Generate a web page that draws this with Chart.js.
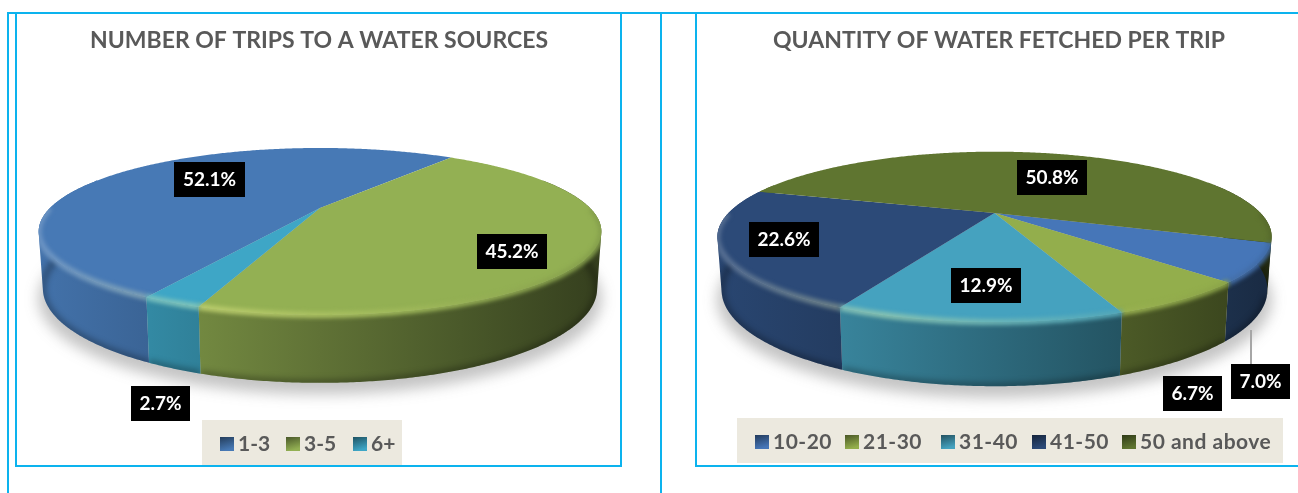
<!DOCTYPE html>
<html>
<head>
<meta charset="utf-8">
<script src="https://cdn.jsdelivr.net/npm/chart.js@4"></script>
<style>
  html, body { margin: 0; padding: 0; background: #fff; overflow: hidden; }
  #page { position: relative; width: 1298px; height: 493px; }
  canvas { position: absolute; top: 0; }
  .rule { position: absolute; background: #0cb3ee; }
</style>
</head>
<body>
<div id="page">
  <div class="rule" style="left:7px;top:12px;width:2px;height:481px"></div>
  <div class="rule" style="left:7px;top:12px;width:1291px;height:2px"></div>
  <div class="rule" style="left:15px;top:13px;width:2px;height:454px"></div>
  <div class="rule" style="left:620px;top:13px;width:2px;height:454px"></div>
  <div class="rule" style="left:15px;top:465px;width:607px;height:2px"></div>
  <div class="rule" style="left:660px;top:13px;width:2px;height:480px"></div>
  <div class="rule" style="left:695px;top:13px;width:2px;height:454px"></div>
  <div class="rule" style="left:695px;top:465px;width:603px;height:2px"></div>
  <canvas id="tripsChart" width="638" height="493" style="left:0"></canvas>
  <canvas id="quantityChart" width="598" height="493" style="left:700px"></canvas>
</div>
<script>
const tripLabels = ['1-3', '3-5', '6+'];
const tripValues = [52.1, 45.2, 2.7];
const tripColors = ['#4779b5', '#93b053', '#3ea6c6'];

const quantityLabels = ['10-20', '21-30', '31-40', '41-50', '50 and above'];
const quantityValues = [7.0, 6.7, 12.9, 22.6, 50.8];
const quantityColors = ['#4676b8', '#93ae4c', '#45a2bf', '#2c4a78', '#5f7530'];

const FONT = "Lato, 'Open Sans', sans-serif";
const TEXT_GREY = '#595959';
const DEG = Math.PI / 180;

function mix(hex, target, t) {
  const a = parseInt(hex.slice(1), 16), b = parseInt(target.slice(1), 16);
  const ch = s => Math.round(((a >> s) & 255) * (1 - t) + ((b >> s) & 255) * t);
  return 'rgb(' + ch(16) + ',' + ch(8) + ',' + ch(0) + ')';
}

// splits an arc into the stretches whose sine stays above a limit (the parts facing the viewer)
function frontRuns(arc, limit) {
  const runs = [];
  let run = null;
  const steps = Math.ceil((arc.endAngle - arc.startAngle) / (0.5 * DEG));
  for (let s = 0; s <= steps; s++) {
    const a = arc.startAngle + (arc.endAngle - arc.startAngle) * s / steps;
    if (Math.sin(a) > limit) {
      if (!run) { run = []; runs.push(run); }
      run.push(a);
    } else {
      run = null;
    }
  }
  return runs;
}

// Office style 3D pie: the arcs Chart.js worked out are projected with a perspective tilt
const pie3dPlugin = {
  id: 'pie3d',
  beforeDatasetDraw(chart, args, opts) {
    const ctx = chart.ctx, arcs = chart.getDatasetMeta(0).data;
    const colors = chart.data.datasets[0].backgroundColor;
    const k = opts.tilt;
    const top = (r, a) => {
      const u = r * Math.cos(a), v = r * Math.sin(a), w = 1 - k * v;
      return { x: opts.cx + opts.b * u / w, y: opts.cy + opts.a * v / w };
    };
    const low = (r, a) => {
      const p = top(r, a);
      return { x: opts.cx + (p.x - opts.cx) * 0.985, y: opts.cy + opts.depth + (p.y - opts.cy) * 1.13 };
    };
    const sweep = (fn, r, angles, start) => {
      angles.forEach((a, i) => {
        const p = fn(r, a);
        if (i === 0 && start) ctx.moveTo(p.x, p.y); else ctx.lineTo(p.x, p.y);
      });
    };
    // wall as little quads of one winding, so the fold at the silhouette leaves no hole
    const addWall = run => {
      for (let i = 0; i < run.length - 1; i++) {
        let q = [top(1, run[i]), top(1, run[i + 1]), low(1, run[i + 1]), low(1, run[i])];
        let area = 0;
        q.forEach((p, j) => {
          const n = q[(j + 1) % 4];
          area += p.x * n.y - n.x * p.y;
        });
        if (area < 0) q = q.reverse();
        ctx.moveTo(q[0].x, q[0].y);
        for (let j = 1; j < 4; j++) ctx.lineTo(q[j].x, q[j].y);
        ctx.closePath();
      }
    };
    const full = [];
    for (let i = 0; i < 360; i++) full.push(i * DEG);
    const x0 = opts.cx - opts.rx, x1 = opts.cx + opts.rx;

    ctx.save();
    ctx.translate(-opts.left, 0);

    // soft floor shadow
    ctx.save();
    ctx.filter = 'blur(7px)';
    ctx.translate(0, 9);
    ctx.beginPath();
    sweep(low, 1.015, full, true);
    ctx.closePath();
    ctx.fillStyle = 'rgba(70,70,70,0.32)';
    ctx.fill();
    ctx.restore();

    // side wall
    arcs.forEach((arc, i) => {
      const g = ctx.createLinearGradient(x0, 0, x1, 0);
      [0, 0.25, 0.5, 0.75, 1].forEach(t => g.addColorStop(t, mix(colors[i], '#000000', 0.06 + 0.58 * t)));
      frontRuns(arc, -0.4).forEach(run => {
        ctx.beginPath();
        addWall(run);
        ctx.fillStyle = g;
        ctx.strokeStyle = g;
        ctx.lineWidth = 0.5;
        ctx.fill();

        // darker foot of the wall
        ctx.save();
        ctx.clip();
        ctx.filter = 'blur(3px)';
        ctx.beginPath();
        sweep(low, 1, run, true);
        ctx.strokeStyle = 'rgba(0,0,0,0.32)';
        ctx.lineWidth = 6;
        ctx.stroke();
        ctx.restore();
      });
    });

    // top face
    arcs.forEach((arc, i) => {
      ctx.beginPath();
      ctx.moveTo(opts.cx, opts.cy);
      const steps = Math.ceil((arc.endAngle - arc.startAngle) / (0.5 * DEG));
      for (let s = 0; s <= steps; s++) {
        const p = top(1, arc.startAngle + (arc.endAngle - arc.startAngle) * s / steps);
        ctx.lineTo(p.x, p.y);
      }
      ctx.closePath();
      ctx.fillStyle = colors[i];
      ctx.fill();
    });

    // bevel highlight round the front of the rim, kept inside the solid
    ctx.save();
    ctx.beginPath();
    sweep(top, 1, full, true);
    ctx.closePath();
    arcs.forEach(arc => frontRuns(arc, -0.4).forEach(addWall));
    ctx.clip();
    ctx.filter = 'blur(2px)';
    ctx.lineWidth = 6;
    arcs.forEach((arc, i) => {
      const g = ctx.createLinearGradient(x0, 0, x1, 0);
      g.addColorStop(0, mix(colors[i], '#ffffff', 0.2));
      g.addColorStop(0.3, mix(colors[i], '#ffff99', 0.36));
      g.addColorStop(0.65, mix(colors[i], '#ffff99', 0.12));
      g.addColorStop(1, mix(colors[i], '#000000', 0.1));
      frontRuns(arc, 0).forEach(run => {
        ctx.beginPath();
        sweep(top, 1, run, true);
        ctx.strokeStyle = g;
        ctx.stroke();
      });
    });
    ctx.restore();

    ctx.restore();
    return false;
  },
  afterDraw(chart, args, opts) {
    const ctx = chart.ctx;
    const values = chart.data.datasets[0].data;
    const colors = chart.data.datasets[0].backgroundColor;
    ctx.save();
    ctx.translate(-opts.left, 0);

    if (opts.leader) {
      ctx.strokeStyle = '#a6a6a6';
      ctx.lineWidth = 2;
      ctx.beginPath();
      ctx.moveTo(opts.leader[0], opts.leader[1]);
      ctx.lineTo(opts.leader[2], opts.leader[3]);
      ctx.stroke();
    }

    // black value labels
    ctx.textAlign = 'center';
    ctx.textBaseline = 'middle';
    ctx.font = 'bold ' + opts.labelSize + 'px ' + FONT;
    values.forEach((v, i) => {
      const b = opts.boxes[i];
      ctx.fillStyle = '#000';
      ctx.fillRect(b[0], b[1], b[2], 35);
      ctx.fillStyle = '#fff';
      ctx.fillText(v.toFixed(1) + '%', b[0] + b[2] / 2, b[1] + 18);
    });

    // legend plate
    const lg = opts.legend;
    ctx.fillStyle = '#ece9df';
    ctx.fillRect(lg.x, lg.y, lg.w, lg.h);
    ctx.textAlign = 'left';
    ctx.font = 'bold ' + lg.size + 'px ' + FONT;
    ctx.letterSpacing = lg.spacing;
    chart.data.labels.forEach((label, i) => {
      const sx = lg.swatches[i], sy = lg.y + 17;
      const g = ctx.createLinearGradient(sx, sy, sx + 4, sy + 14);
      g.addColorStop(0, mix(colors[i], '#000000', 0.5));
      g.addColorStop(1, colors[i]);
      ctx.fillStyle = g;
      ctx.fillRect(sx, sy, 14, 14);
      ctx.fillStyle = TEXT_GREY;
      ctx.fillText(label, sx + 18, lg.y + 24);
    });
    ctx.restore();
  }
};

function makePie(id, labels, values, colors, title, rotation, geometry) {
  return new Chart(document.getElementById(id), {
    type: 'pie',
    data: { labels: labels, datasets: [{ data: values, backgroundColor: colors, borderWidth: 0 }] },
    plugins: [pie3dPlugin],
    options: {
      responsive: false,
      animation: false,
      rotation: rotation,
      plugins: {
        legend: { display: false },
        tooltip: { enabled: false },
        title: {
          display: true,
          text: title,
          color: TEXT_GREY,
          font: { family: FONT, size: 23, weight: 'bold' },
          padding: { top: 27, bottom: 10 }
        },
        pie3d: geometry
      }
    }
  });
}

makePie('tripsChart', tripLabels, tripValues, tripColors, 'NUMBER OF TRIPS TO A WATER SOURCES', 209, {
  left: 0, cx: 320, cy: 208, a: 76.9, b: 270, rx: 281, tilt: 0.281, depth: 54,
  labelSize: 19,
  boxes: [[174, 162, 71], [477, 234, 70], [131, 386, 59]],
  legend: { x: 202, y: 420, w: 200, h: 45, size: 21, spacing: '0px', swatches: [220, 286, 353] }
});

makePie('quantityChart', quantityLabels, quantityValues, quantityColors, 'QUANTITY OF WATER FETCHED PER TRIP', 110, {
  left: 700, cx: 994.5, cy: 213, a: 78.5, b: 266, rx: 277.5, tilt: 0.28, depth: 50,
  labelSize: 19,
  boxes: [[1231, 364, 59], [1163, 376, 59], [951, 268, 70], [749, 222, 70], [1017, 160, 70]],
  leader: [1251, 330, 1251, 364],
  legend: { x: 737, y: 418, w: 546, h: 45, size: 21, spacing: '0.5px', swatches: [755, 845, 941, 1032, 1122] }
});
</script>
</body>
</html>
